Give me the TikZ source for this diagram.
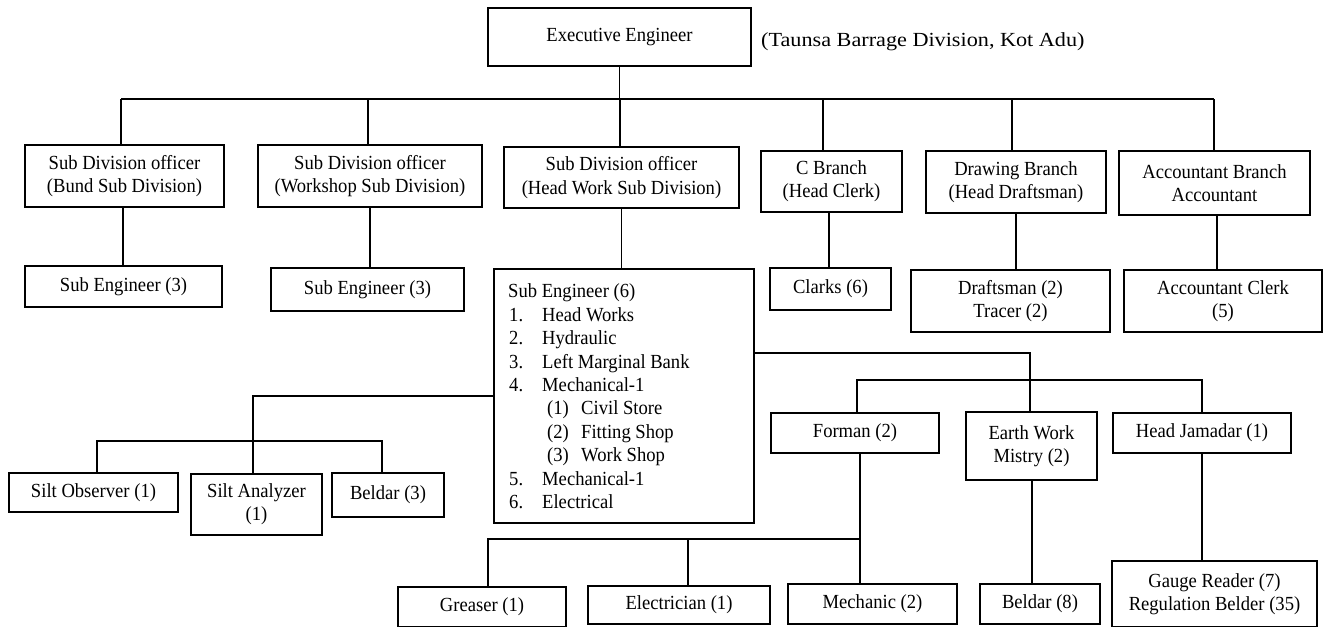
\documentclass[tikz,border=0pt]{standalone}
\usepackage{fontspec}
\setmainfont{Liberation Serif}[FakeStretch=0.93]
\newfontfamily\widefont{Liberation Serif}[FakeStretch=1.11]
\newcommand\fs{\fontsize{20}{23.3}\selectfont}
\newcommand\fb{\widefont\fontsize{20}{24}\selectfont}
\tikzset{
  box/.style={draw, line width=1.3pt, inner sep=0pt, align=center, font=\fs},
  ln/.style={line width=1.3pt},
  itm/.style={anchor=base west, inner sep=0pt, font=\fs},
}
\begin{document}
\begin{tikzpicture}[x=1pt,y=-1pt]
\clip (0,0) rectangle (1324,626);
\useasboundingbox (0,0) rectangle (1324,626);

% top
\node[box, minimum width=263, minimum height=58] (exec) at (619.5,37) {Executive Engineer};
\node[anchor=west, inner sep=0pt, font=\fb] (tb) at (761,42) {(Taunsa Barrage Division, Kot Adu)};

% level 2
\node[box, minimum width=199, minimum height=62] (bund) at (124.5,176) {Sub Division officer\\(Bund Sub Division)};
\node[box, minimum width=224, minimum height=62] (wsdo) at (370,176) {Sub Division officer\\(Workshop Sub Division)};
\node[box, minimum width=235, minimum height=61] (hwdo) at (621.5,177.5) {Sub Division officer\\(Head Work Sub Division)};
\node[box, minimum width=141, minimum height=61] (cbr) at (831.5,181.5) {C Branch\\(Head Clerk)};
\node[box, minimum width=180, minimum height=62] (drw) at (1016,182) {Drawing Branch\\(Head Draftsman)};
\node[box, minimum width=191, minimum height=64] (acc) at (1214.5,183) {Accountant Branch\\Accountant};

% level 3
\node[box, minimum width=197, minimum height=41] (se3a) at (123.5,286.5) {Sub Engineer (3)};
\node[box, minimum width=193, minimum height=43] (se3b) at (367.5,289.5) {Sub Engineer (3)};
\node[box, minimum width=260, minimum height=254] (se6) at (624,396) {};
\node[box, minimum width=121, minimum height=42] (clk) at (830.5,289) {Clarks (6)};
\node[box, minimum width=199, minimum height=62] (dft) at (1010.5,301) {Draftsman (2)\\Tracer (2)};
\node[box, minimum width=198, minimum height=62] (acl) at (1223,301) {Accountant Clerk\\(5)};

% list inside se6
\node[itm] (l0) at (508,297) {Sub Engineer (6)};
\node[itm] (n1) at (509,321) {1.};  \node[itm] (t1) at (542,321) {Head Works};
\node[itm] (n2) at (509,344) {2.};  \node[itm] (t2) at (542,344) {Hydraulic};
\node[itm] (n3) at (509,368) {3.};  \node[itm] (t3) at (542,368) {Left Marginal Bank};
\node[itm] (n4) at (509,391) {4.};  \node[itm] (t4) at (542,391) {Mechanical-1};
\node[itm] (m1) at (547,414) {(1)}; \node[itm] (s1) at (581,414) {Civil Store};
\node[itm] (m2) at (547,438) {(2)}; \node[itm] (s2) at (581,438) {Fitting Shop};
\node[itm] (m3) at (547,461) {(3)}; \node[itm] (s3) at (581,461) {Work Shop};
\node[itm] (n5) at (509,485) {5.};  \node[itm] (t5) at (542,485) {Mechanical-1};
\node[itm] (n6) at (509,508) {6.};  \node[itm] (t6) at (542,508) {Electrical};

% left branch
\node[box, minimum width=169, minimum height=39] (silto) at (93.5,492.5) {Silt Observer (1)};
\node[box, minimum width=131, minimum height=61] (silta) at (256.5,504.5) {Silt Analyzer\\(1)};
\node[box, minimum width=112, minimum height=44] (beld3) at (388,495) {Beldar (3)};

% right branch
\node[box, minimum width=168, minimum height=40] (forman) at (855,433) {Forman (2)};
\node[box, minimum width=131, minimum height=68] (ewm) at (1031.5,446) {Earth Work\\Mistry (2)};
\node[box, minimum width=178, minimum height=40] (hj) at (1202,433) {Head Jamadar (1)};

% bottom row
\node[box, minimum width=168, minimum height=40] (greaser) at (482,607) {Greaser (1)};
\node[box, minimum width=182, minimum height=38] (elec) at (679,605) {Electrician (1)};
\node[box, minimum width=169, minimum height=40] (mech) at (872.5,604) {Mechanic (2)};
\node[box, minimum width=120, minimum height=40] (beld8) at (1040,604) {Beldar (8)};
\node[box, minimum width=205, minimum height=66] (gauge) at (1214.5,594) {Gauge Reader (7)\\Regulation Belder (35)};

% connectors: top bus
\coordinate (b1) at (121,99);
\coordinate (b2) at (368,99);
\coordinate (b3) at (620,99);
\coordinate (b4) at (823,99);
\coordinate (b5) at (1012,99);
\coordinate (b6) at (1214,99);
\draw[ln] (exec.south) -- (exec.south |- b3);
\draw[ln] (b1) -- (b6);
\draw[ln] (b1) -- (b1 |- bund.north);
\draw[ln] (b2) -- (b2 |- wsdo.north);
\draw[ln] (b3) -- (b3 |- hwdo.north);
\draw[ln] (b4) -- (b4 |- cbr.north);
\draw[ln] (b5) -- (b5 |- drw.north);
\draw[ln] (b6) -- (b6 |- acc.north);

% level 2 -> 3
\coordinate (bc) at (123,250);
\draw[ln] (bc |- bund.south) -- (bc |- se3a.north);
\draw[ln] (wsdo.south) -- (wsdo.south |- se3b.north);
\draw[ln] (hwdo.south) -- (hwdo.south |- se6.north);
\coordinate (cc) at (829,250);
\draw[ln] (cc |- cbr.south) -- (cc |- clk.north);
\draw[ln] (drw.south) -- (drw.south |- dft.north);
\coordinate (ac) at (1217,250);
\draw[ln] (ac |- acc.south) -- (ac |- acl.north);

% left branch
\coordinate (lj) at (253,396);
\draw[ln] (lj -| se6.west) -- (lj) -- (lj |- silta.north);
\coordinate (lb1) at (97,441);
\coordinate (lb2) at (382,441);
\draw[ln] (lb1 |- silto.north) -- (lb1) -- (lb2) -- (lb2 |- beld3.north);

% right branch
\coordinate (rj) at (1030,353);
\draw[ln] (rj -| se6.east) -- (rj) -- (rj |- ewm.north);
\coordinate (rb1) at (857,380);
\coordinate (rb2) at (1202,380);
\draw[ln] (rb1 |- forman.north) -- (rb1) -- (rb2) -- (rb2 |- hj.north);

% forman -> bottom
\coordinate (fj) at (860,539);
\coordinate (fb1) at (488,539);
\coordinate (fb2) at (688,539);
\draw[ln] (fj |- forman.south) -- (fj |- mech.north);
\draw[ln] (fb1 |- greaser.north) -- (fb1) -- (fj);
\draw[ln] (fb2) -- (fb2 |- elec.north);
\coordinate (ec) at (1032,500);
\draw[ln] (ec |- ewm.south) -- (ec |- beld8.north);
\draw[ln] (hj.south) -- (hj.south |- gauge.north);
\end{tikzpicture}
\end{document}
